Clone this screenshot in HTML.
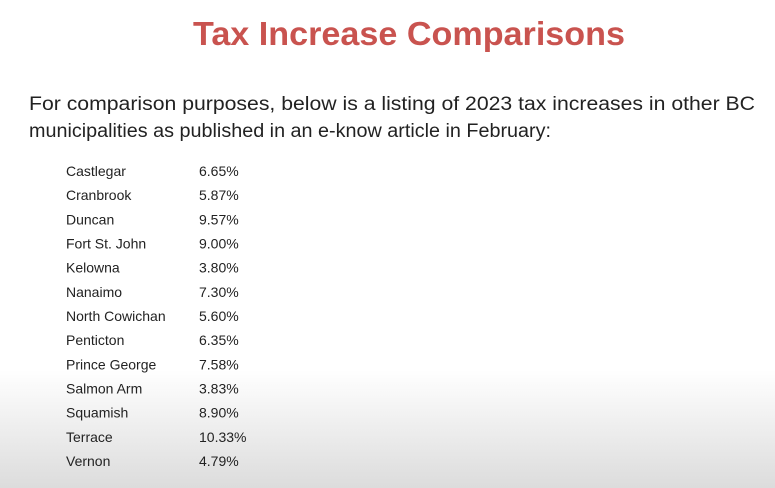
<!DOCTYPE html>
<html><head><meta charset="utf-8"><style>
html,body{margin:0;padding:0;}
body{width:775px;height:488px;overflow:hidden;background:#fff;}
svg{display:block;font-family:"Liberation Sans",sans-serif;}
</style></head><body>
<svg width="775" height="488">
<defs><linearGradient id="g" x1="0" y1="0" x2="0" y2="1">
<stop offset="0" stop-color="#ffffff"/><stop offset="1" stop-color="#dcdcdc"/></linearGradient></defs>
<rect x="0" y="0" width="775" height="488" fill="#fff"/>
<rect x="0" y="370" width="775" height="118" fill="url(#g)"/>
<text x="193" y="45" font-size="33" font-weight="bold" fill="#c9534f" textLength="432" lengthAdjust="spacingAndGlyphs">Tax Increase Comparisons</text>
<text x="29" y="110" font-size="19" fill="#222" textLength="726" lengthAdjust="spacingAndGlyphs">For comparison purposes, below is a listing of 2023 tax increases in other BC</text>
<text x="29" y="137" font-size="19" fill="#222" textLength="522" lengthAdjust="spacingAndGlyphs">municipalities as published in an e-know article in February:</text>
<g id="rows"></g>
</svg>
<script>
const names=["Castlegar","Cranbrook","Duncan","Fort St. John","Kelowna","Nanaimo","North Cowichan","Penticton","Prince George","Salmon Arm","Squamish","Terrace","Vernon"];
const values=[6.65,5.87,9.57,9.00,3.80,7.30,5.60,6.35,7.58,3.83,8.90,10.33,4.79];
const g=document.getElementById('rows');
const ns="http://www.w3.org/2000/svg";
function rowY(i){return 176+i*24.17;}
names.forEach((n,i)=>{
  const t=document.createElementNS(ns,'text');
  t.setAttribute('x',66);t.setAttribute('y',rowY(i));
  t.setAttribute('font-size','14');t.setAttribute('fill','#222');
  t.textContent=n;
  
  
  g.appendChild(t);
  const v=document.createElementNS(ns,'text');
  v.setAttribute('x',199);v.setAttribute('y',rowY(i));
  v.setAttribute('font-size','14');v.setAttribute('fill','#222');
  v.textContent=values[i].toFixed(2)+'%';
  
  
  g.appendChild(v);
});
</script>
</body></html>
